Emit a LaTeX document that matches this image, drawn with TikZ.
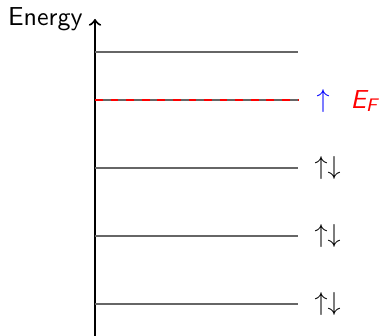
\documentclass[tikz,border=0pt]{standalone}
\usepackage{amsmath}
\begin{document}
\begin{tikzpicture}[x=0.385pt,y=-0.385pt,font=\sffamily,
  level/.style={black!60,line width=0.5pt},
  axisline/.style={thick,->},
  spinlab/.style={anchor=west,inner sep=0pt}]
\useasboundingbox (0,0) rectangle (381,336);
% axis
\coordinate (ab) at (95,336);
\coordinate (at) at (95,19);
\draw[axisline] (ab) -- (at);
\node[anchor=base east,inner sep=0pt] (lab) at (83,26) {Energy};
% levels
\foreach \n/\y in {a/52,b/100,c/168,d/236,e/304}{
  \coordinate (\n0) at (95,\y);
  \coordinate (\n1) at (298,\y);
  \draw[level] (\n0) -- (\n1);
}
\draw[red,dashed,line width=0.5pt] (b0) -- (b1);
% labels
\node[spinlab] (sc) at (314,168) {$\uparrow\downarrow$};
\node[spinlab] (sd) at (314,236) {$\uparrow\downarrow$};
\node[spinlab] (se) at (314,304) {$\uparrow\downarrow$};
\node[spinlab,text=blue] (sb) at (316,101) {$\uparrow$};
\node[spinlab,text=red] (ef) at (350,101) {\itshape E$_{\text{\sffamily\itshape F}}$};
\end{tikzpicture}
\end{document}
